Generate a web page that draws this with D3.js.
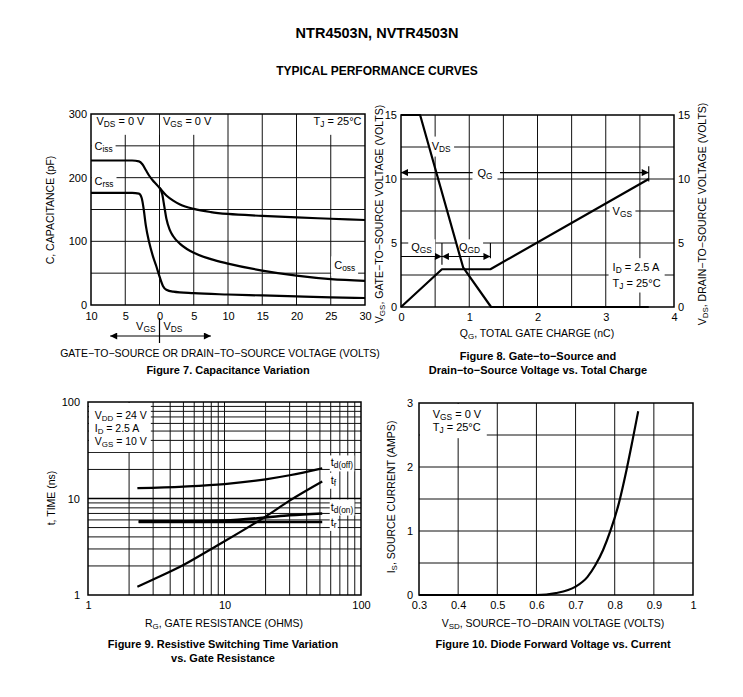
<!DOCTYPE html>
<html>
<head>
<meta charset="utf-8">
<script src="https://cdn.jsdelivr.net/npm/d3@7"></script>
<style>
  body { margin:0; background:#fff; }
  svg { display:block; }
  text { font-family: "Liberation Sans", Arial, Helvetica, sans-serif; fill:#000; }
</style>
</head>
<body>
<svg id="chart"></svg>
<script>
var screen = {width:743, height:697}
var font = "Liberation Sans, Arial, Helvetica, sans-serif"

// ---- Figure 7: capacitance (x < 0 is VGS side, x > 0 is VDS side)
var capTicksX = [-10,-5,0,5,10,15,20,25,30]
var capTicksY = [0,100,200,300]
var cissData = [[-10,227],[-4,227],[-3,225.5],[-2.5,221],[-2,212],[-1.5,203],[-1,196],[-0.5,190],[0,184],[1,172],[2,164],[3,158],[5,151],[7.5,146],[10,143],[15,140],[20,137.5],[25,135.5],[30,133.5]]
var cossData = [[0,184],[0.4,174],[0.7,155],[1,136],[1.5,118],[2,108],[3,96],[4,88],[5,82],[7.5,72],[10,65],[15,54],[20,46],[25,40.5],[30,38]]
var crssData = [[-10,176],[-4,176],[-3,175],[-2.6,168],[-2.3,150],[-2,125],[-1.5,98],[-1,78],[-0.5,62],[0,45],[0.5,30],[1,24],[2,21],[5,18.5],[10,16.5],[15,15],[20,13.5],[25,12],[30,11]]

// ---- Figure 8: gate charge
var qgTicksX = [0,1,2,3,4]
var qgTicksY = [0,5,10,15]
var vgsData = [[0,0],[0.6,2.95],[1.31,2.95],[3.63,10]]
var vdsData = [[0,15],[0.28,15],[0.91,3.1],[1.32,0],[3.63,0]]
var qgEnd = 3.63, qgsEnd = 0.6, qgdEnd = 1.31

// ---- Figure 9: switching time vs gate resistance (log-log)
var rgTicks = [1,10,100]
var tTicks = [1,10,100]
var tdOffData = [[2.3,12.8],[5,13.3],[10,14.1],[20,15.8],[30,17.4],[52,20.5]]
var tfData = [[2.3,1.22],[3,1.45],[5,2.05],[8,3.0],[10,3.6],[20,6.5],[30,9.5],[52,15]]
var tdOnData = [[2.35,5.8],[5,5.8],[10,5.9],[20,6.35],[30,6.7],[52,7.0]]
var trData = [[2.35,5.7],[10,5.7],[52,5.7]]

// ---- Figure 10: diode forward voltage
var vsdTicks = [0.3,0.4,0.5,0.6,0.7,0.8,0.9,1]
var isTicks = [0,1,2,3]
var diodeData = [[0.3,0],[0.6,0],[0.65,0.03],[0.7,0.13],[0.73,0.28],[0.75,0.46],[0.77,0.7],[0.79,1.02],[0.81,1.42],[0.83,1.95],[0.845,2.4],[0.86,2.87]]

var svg = d3.select("#chart")
            .attr("width",screen.width)
            .attr("height",screen.height)

var defs = svg.append("defs")
defs.append("marker").attr("id","arr")
    .attr("viewBox","0 0 10 10").attr("refX",10).attr("refY",5)
    .attr("markerWidth",9).attr("markerHeight",7).attr("markerUnits","userSpaceOnUse")
    .attr("orient","auto-start-reverse")
    .append("path").attr("d","M0,0 L10,5 L0,10 z").attr("fill","#000")

// text with subscripts: parts starting with "_" are subscripts
var rich = function(g, x, y, parts, size, anchor)
{
    var t = g.append("text").attr("x",x).attr("y",y)
             .attr("font-size",size).attr("text-anchor",anchor || "start")
    var shift = 0
    parts.forEach(function(p)
    {
        var sub = p.charAt(0) === "_"
        var want = sub ? Math.round(size*0.22) : 0
        t.append("tspan").attr("dy", want - shift)
         .style("font-size", sub ? (size*0.76)+"px" : null)
         .text(sub ? p.slice(1) : p)
        shift = want
    })
    return t
}

// white patch behind a label so gridlines stop around it
var patch = function(g, t, px, py)
{
    var b = t.node().getBBox()
    g.insert("rect", function(){return t.node()})
     .attr("x",b.x-px).attr("y",b.y-py)
     .attr("width",b.width+2*px).attr("height",b.height+2*py)
     .attr("fill","#fff")
}

var grid = function(g, xs, ys, xScale, yScale)
{
    var xr = xScale.range(), yr = yScale.range()
    g.selectAll(".gx").data(xs).enter().append("line")
     .attr("x1",function(d){return xScale(d)}).attr("x2",function(d){return xScale(d)})
     .attr("y1",yr[0]).attr("y2",yr[1])
     .attr("stroke","#111").attr("stroke-width",1)
    g.selectAll(".gy").data(ys).enter().append("line")
     .attr("y1",function(d){return yScale(d)}).attr("y2",function(d){return yScale(d)})
     .attr("x1",xr[0]).attr("x2",xr[1])
     .attr("stroke","#111").attr("stroke-width",1)
}

var frame = function(g, xScale, yScale)
{
    var xr = xScale.range(), yr = yScale.range()
    g.append("rect").attr("x",xr[0]).attr("y",yr[1])
     .attr("width",xr[1]-xr[0]).attr("height",yr[0]-yr[1])
     .attr("fill","none").attr("stroke","#000").attr("stroke-width",1.5)
}

var styleAxis = function(a)
{
    a.attr("font-size",11).attr("font-family",font)
    a.select(".domain").remove()
}

var curve = function(g, data, xScale, yScale, kind, w)
{
    var line = d3.line()
                 .x(function(d){return xScale(d[0])})
                 .y(function(d){return yScale(d[1])})
                 .curve(kind)
    g.append("path").datum(data).attr("d",line)
     .attr("fill","none").attr("stroke","#000").attr("stroke-width",w || 2.2)
     .attr("stroke-linejoin","round")
}

// titles
svg.append("text").attr("x",377).attr("y",38).attr("text-anchor","middle")
   .attr("font-size",14.5).attr("font-weight","bold").text("NTR4503N, NVTR4503N")
svg.append("text").attr("x",377).attr("y",75).attr("text-anchor","middle")
   .attr("font-size",12).attr("font-weight","bold").text("TYPICAL PERFORMANCE CURVES")

// ================= Figure 7
var drawCap = function()
{
    var g = svg.append("g")
    var x = d3.scaleLinear().domain([-10,30]).range([91,365])
    var y = d3.scaleLinear().domain([0,300]).range([305,114])
    grid(g, [-5,0,5,10,15,20,25], [50,100,150,200,250], x, y)

    var lab = g.append("g")
    var t1 = rich(lab, x(-9.5), y(243), ["C","_iss"], 11); patch(lab,t1,3,4)
    var t2 = rich(lab, x(-9.5), y(188), ["C","_rss"], 11); patch(lab,t2,3,4)
    var t3 = rich(lab, x(25.5), y(56), ["C","_oss"], 11); patch(lab,t3,3,3)
    var t4 = rich(lab, x(-9.2), y(283), ["V","_DS"," = 0 V"], 11); patch(lab,t4,3,6)
    var t5 = rich(lab, x(0.5), y(283), ["V","_GS"," = 0 V"], 11); patch(lab,t5,3,6)
    var t6 = rich(lab, x(29.5), y(283), ["T","_J"," = 25°C"], 11, "end"); patch(lab,t6,3,6)

    curve(g, cissData, x, y, d3.curveMonotoneX)
    curve(g, cossData, x, y, d3.curveMonotoneX)
    curve(g, crssData, x, y, d3.curveMonotoneX)
    frame(g, x, y)

    g.append("g").attr("transform","translate(0,305)")
     .call(d3.axisBottom(x).tickValues(capTicksX).tickFormat(function(d){return Math.abs(d)}).tickSize(0).tickPadding(7))
     .call(styleAxis)
    g.append("g").attr("transform","translate(91,0)")
     .call(d3.axisLeft(y).tickValues(capTicksY).tickSize(0).tickPadding(4))
     .call(styleAxis)

    // VGS | VDS direction marker
    g.append("line").attr("x1",x(0)).attr("x2",x(0)).attr("y1",318).attr("y2",343)
     .attr("stroke","#000").attr("stroke-width",1.2)
    g.append("line").attr("x1",x(-7.2)).attr("x2",x(7.5)).attr("y1",336).attr("y2",336)
     .attr("stroke","#000").attr("stroke-width",1.2)
     .attr("marker-start","url(#arr)").attr("marker-end","url(#arr)")
    rich(g, x(0)-4, 330, ["V","_GS"], 11, "end")
    rich(g, x(0)+4, 330, ["V","_DS"], 11)

    g.append("text").attr("transform","translate(54,210) rotate(-90)")
     .attr("text-anchor","middle").attr("font-size",10.5).text("C, CAPACITANCE (pF)")
    g.append("text").attr("x",220).attr("y",357).attr("text-anchor","middle")
     .attr("font-size",10.5).text("GATE−TO−SOURCE OR DRAIN−TO−SOURCE VOLTAGE (VOLTS)")
    g.append("text").attr("x",228).attr("y",374).attr("text-anchor","middle")
     .attr("font-size",11).attr("font-weight","bold").text("Figure 7. Capacitance Variation")
}

// ================= Figure 8
var drawCharge = function()
{
    var g = svg.append("g")
    var x = d3.scaleLinear().domain([0,4]).range([401,674])
    var y = d3.scaleLinear().domain([0,15]).range([307,115])
    grid(g, [0.5,1,1.5,2,2.5,3,3.5], [2.5,5,7.5,10,12.5], x, y)

    var lab = g.append("g")
    var a = rich(lab, x(0.45), y(12.3), ["V","_DS"], 11); patch(lab,a,3,3)
    var b = rich(lab, x(1.12), y(10.15), ["Q","_G"], 11); patch(lab,b,5,3)
    var c = rich(lab, x(3.1), y(7.2), ["V","_GS"], 11); patch(lab,c,3,3)
    var d = rich(lab, x(0.15), y(4.35), ["Q","_GS"], 11); patch(lab,d,3,2)
    var e = rich(lab, x(0.85), y(4.35), ["Q","_GD"], 11); patch(lab,e,3,2)
    var f1 = rich(lab, x(3.1), y(2.8), ["I","_D"," = 2.5 A"], 11)
    var f2 = rich(lab, x(3.1), y(1.6), ["T","_J"," = 25°C"], 11)
    var bb = f1.node().getBBox(), bb2 = f2.node().getBBox()
    lab.insert("rect","text").attr("x",bb.x-4).attr("y",bb.y-3)
       .attr("width",Math.max(bb.width,bb2.width)+8).attr("height",bb2.y+bb2.height-bb.y+5)
       .attr("fill","#fff")

    // charge arrows
    var ar = g.append("g").attr("stroke","#000").attr("stroke-width",1.1)
    ar.append("line").attr("x1",x(0)).attr("x2",x(1.05)).attr("y1",y(10.5)).attr("y2",y(10.5)).attr("marker-start","url(#arr)")
    ar.append("line").attr("x1",x(1.45)).attr("x2",x(qgEnd)).attr("y1",y(10.5)).attr("y2",y(10.5)).attr("marker-end","url(#arr)")
    ar.append("line").attr("x1",x(qgEnd)).attr("x2",x(qgEnd)).attr("y1",y(11)).attr("y2",y(9.8))
    ar.append("line").attr("x1",x(0)).attr("x2",x(qgsEnd)).attr("y1",y(3.95)).attr("y2",y(3.95)).attr("marker-end","url(#arr)")
    ar.append("line").attr("x1",x(qgsEnd)).attr("x2",x(qgdEnd)).attr("y1",y(3.95)).attr("y2",y(3.95))
      .attr("marker-start","url(#arr)").attr("marker-end","url(#arr)")
    ar.append("line").attr("x1",x(qgsEnd)).attr("x2",x(qgsEnd)).attr("y1",y(5)).attr("y2",y(3.3))
    ar.append("line").attr("x1",x(qgdEnd)).attr("x2",x(qgdEnd)).attr("y1",y(5)).attr("y2",y(3.8))

    curve(g, vgsData, x, y, d3.curveLinear)
    curve(g, vdsData, x, y, d3.curveLinear)
    frame(g, x, y)

    g.append("g").attr("transform","translate(0,307)")
     .call(d3.axisBottom(x).tickValues(qgTicksX).tickFormat(d3.format("d")).tickSize(0).tickPadding(6))
     .call(styleAxis)
    g.append("g").attr("transform","translate(401,0)")
     .call(d3.axisLeft(y).tickValues(qgTicksY).tickFormat(d3.format("d")).tickSize(0).tickPadding(4))
     .call(styleAxis)
    g.append("g").attr("transform","translate(674,0)")
     .call(d3.axisRight(y).tickValues(qgTicksY).tickFormat(d3.format("d")).tickSize(0).tickPadding(4))
     .call(styleAxis)

    var lt = rich(g, 0, 0, ["V","_GS",", GATE−TO−SOURCE VOLTAGE (VOLTS)"], 10.5, "middle")
    lt.attr("transform","translate(383,214) rotate(-90)")
    var rt = rich(g, 0, 0, ["V","_DS",", DRAIN−TO−SOURCE VOLTAGE (VOLTS)"], 10.5, "middle")
    rt.attr("transform","translate(706,214) rotate(-90)")
    rich(g, 537, 337, ["Q","_G",", TOTAL GATE CHARGE (nC)"], 10.5, "middle")
    g.append("text").attr("x",538).attr("y",360).attr("text-anchor","middle")
     .attr("font-size",11).attr("font-weight","bold").text("Figure 8. Gate−to−Source and")
    g.append("text").attr("x",538).attr("y",374).attr("text-anchor","middle")
     .attr("font-size",11).attr("font-weight","bold").text("Drain−to−Source Voltage vs. Total Charge")
}

// ================= Figure 9
var drawSwitch = function()
{
    var g = svg.append("g")
    var x = d3.scaleLog().domain([1,100]).range([88,361])
    var y = d3.scaleLog().domain([1,100]).range([595,402])
    var minor = [2,3,4,5,6,7,8,9,20,30,40,50,60,70,80,90]
    grid(g, minor.concat([10]), minor.concat([10]), x, y)
    g.append("line").attr("x1",88).attr("x2",361).attr("y1",y(10)).attr("y2",y(10))
     .attr("stroke","#000").attr("stroke-width",1.6)

    var lab = g.append("g")
    var l1 = rich(lab, x(1.12), y(66.7), ["V","_DD"," = 24 V"], 10.5)
    var l2 = rich(lab, x(1.12), y(48.9), ["I","_D"," = 2.5 A"], 10.5)
    var l3 = rich(lab, x(1.12), y(35.8), ["V","_GS"," = 10 V"], 10.5)
    var b3 = l3.node().getBBox()
    lab.insert("rect","text").attr("x",89).attr("y",403)
       .attr("width",b3.x+b3.width+4-89).attr("height",b3.y+b3.height+3-403).attr("fill","#fff")

    var s1 = rich(lab, x(60), y(21.5), ["t","_d(off)"], 11); patch(lab,s1,1,1)
    var s2 = rich(lab, x(60), y(14.2), ["t","_f"], 11); patch(lab,s2,1,1)
    var s3 = rich(lab, x(60), y(7.5), ["t","_d(on)"], 11); patch(lab,s3,1,1)
    var s4 = rich(lab, x(60), y(5.2), ["t","_r"], 11); patch(lab,s4,1,1)

    curve(g, tdOffData, x, y, d3.curveMonotoneX)
    curve(g, tfData, x, y, d3.curveMonotoneX)
    curve(g, tdOnData, x, y, d3.curveMonotoneX, 2.6)
    curve(g, trData, x, y, d3.curveMonotoneX, 2.6)
    frame(g, x, y)

    g.append("g").attr("transform","translate(0,595)")
     .call(d3.axisBottom(x).tickValues(rgTicks).tickFormat(d3.format("d")).tickSize(0).tickPadding(6))
     .call(styleAxis)
    g.append("g").attr("transform","translate(88,0)")
     .call(d3.axisLeft(y).tickValues(tTicks).tickFormat(d3.format("d")).tickSize(0).tickPadding(8))
     .call(styleAxis)

    g.append("text").attr("transform","translate(55,498) rotate(-90)")
     .attr("text-anchor","middle").attr("font-size",10.5).text("t, TIME (ns)")
    rich(g, 224, 627, ["R","_G",", GATE RESISTANCE (OHMS)"], 10.5, "middle")
    g.append("text").attr("x",223).attr("y",648).attr("text-anchor","middle")
     .attr("font-size",11).attr("font-weight","bold").text("Figure 9. Resistive Switching Time Variation")
    g.append("text").attr("x",223).attr("y",662).attr("text-anchor","middle")
     .attr("font-size",11).attr("font-weight","bold").text("vs. Gate Resistance")
}

// ================= Figure 10
var drawDiode = function()
{
    var g = svg.append("g")
    var x = d3.scaleLinear().domain([0.3,1]).range([419,693])
    var y = d3.scaleLinear().domain([0,3]).range([595,403])
    grid(g, [0.4,0.5,0.6,0.7,0.8,0.9], [0.5,1,1.5,2,2.5], x, y)

    var lab = g.append("g")
    var l1 = rich(lab, x(0.335), y(2.77), ["V","_GS"," = 0 V"], 11)
    var l2 = rich(lab, x(0.335), y(2.56), ["T","_J"," = 25°C"], 11)
    var b2 = l2.node().getBBox()
    lab.insert("rect","text").attr("x",420).attr("y",404)
       .attr("width",b2.x+b2.width+6-420).attr("height",b2.y+b2.height+3-404).attr("fill","#fff")

    curve(g, diodeData, x, y, d3.curveMonotoneX)
    frame(g, x, y)

    g.append("g").attr("transform","translate(0,595)")
     .call(d3.axisBottom(x).tickValues(vsdTicks).tickFormat(function(d){return d === 1 ? "1" : d3.format(".1f")(d)}).tickSize(0).tickPadding(6))
     .call(styleAxis)
    g.append("g").attr("transform","translate(419,0)")
     .call(d3.axisLeft(y).tickValues(isTicks).tickFormat(d3.format("d")).tickSize(0).tickPadding(6))
     .call(styleAxis)

    var yt = rich(g, 0, 0, ["I","_S",", SOURCE CURRENT (AMPS)"], 10.5, "middle")
    yt.attr("transform","translate(395,497) rotate(-90)")
    rich(g, 553, 627, ["V","_SD",", SOURCE−TO−DRAIN VOLTAGE (VOLTS)"], 10.5, "middle")
    g.append("text").attr("x",553).attr("y",648).attr("text-anchor","middle")
     .attr("font-size",11).attr("font-weight","bold").text("Figure 10. Diode Forward Voltage vs. Current")
}

drawCap()
drawCharge()
drawSwitch()
drawDiode()
</script>
</body>
</html>
